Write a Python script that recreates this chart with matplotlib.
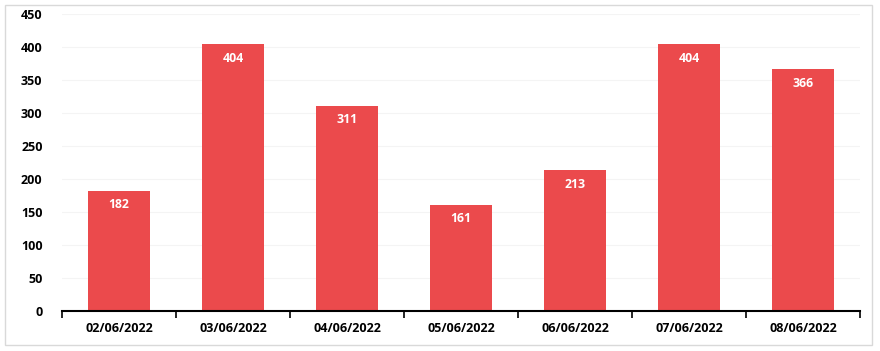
import numpy as np
import matplotlib.pyplot as plt
from matplotlib.patches import Rectangle

dates = ['02/06/2022', '03/06/2022', '04/06/2022', '05/06/2022',
         '06/06/2022', '07/06/2022', '08/06/2022']
values = [182, 404, 311, 161, 213, 404, 366]
y_ticks = [0, 50, 100, 150, 200, 250, 300, 350, 400, 450]

plt.rcParams['font.family'] = ['Open Sans', 'DejaVu Sans']

fig = plt.figure(figsize=(8.8, 3.51), dpi=100)
ax = fig.add_axes([62 / 880, 1 - 311 / 351, 798 / 880, 297 / 351])

# outer light border
fig.patches.append(Rectangle((5 / 880, 6 / 351), 867 / 880, 340 / 351,
                             transform=fig.transFigure, fill=False,
                             edgecolor='#D9D9D9', linewidth=1))

x = np.arange(len(dates))
bars = ax.bar(x, values, width=0.55, color='#EB4A4C', zorder=3)

for xi, v in zip(x, values):
    ax.annotate(str(v), (xi, v), xytext=(0, -10), textcoords='offset points',
                ha='center', va='center', color='white', fontweight='bold',
                fontsize=8.8, zorder=4)

ax.set_xlim(-0.5, len(dates) - 0.5)
ax.set_ylim(0, 450)
ax.set_yticks(y_ticks)
ax.set_yticklabels([str(t) for t in y_ticks], fontweight='bold', fontsize=9)
ax.tick_params(axis='y', length=0, pad=14)

ax.set_xticks(np.arange(-0.5, len(dates), 1.0))
ax.set_xticklabels([])
ax.tick_params(axis='x', which='major', length=5, width=1.2, direction='out')
ax.set_xticks(x, minor=True)
ax.set_xticklabels(dates, minor=True, fontweight='bold', fontsize=9)
ax.tick_params(axis='x', which='minor', length=0, pad=8)

ax.grid(axis='y', color='#F4F4F4', linewidth=0.8, zorder=0)
for s in ['top', 'right', 'left']:
    ax.spines[s].set_visible(False)
ax.spines['bottom'].set_linewidth(1.5)
ax.spines['bottom'].set_zorder(5)

fig.savefig('out.png', dpi=100)
